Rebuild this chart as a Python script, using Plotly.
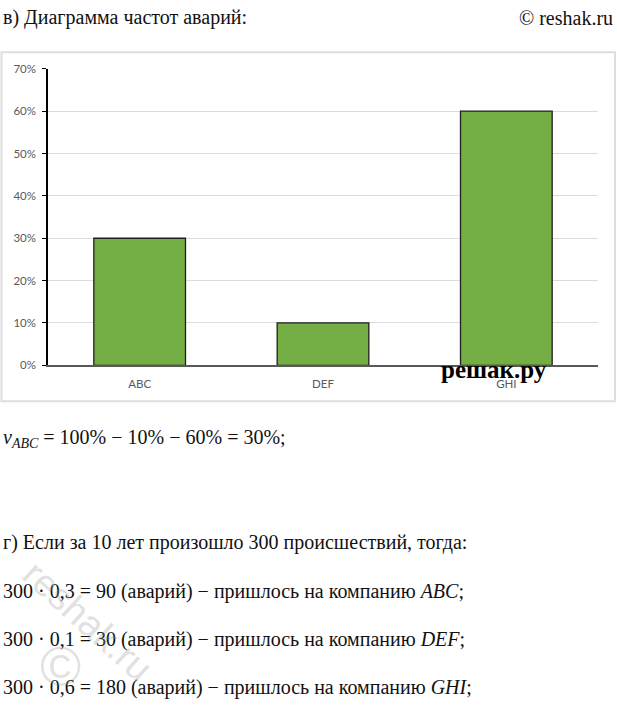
import plotly.graph_objects as go

W, H = 617, 708

categories = ["ABC", "DEF", "GHI"]
frequencies = [0.30, 0.10, 0.60]
y_ticks = [0, 0.1, 0.2, 0.3, 0.4, 0.5, 0.6, 0.7]
y_tick_labels = ["0%", "10%", "20%", "30%", "40%", "50%", "60%", "70%"]

header_left = "в) Диаграмма частот аварий:"
header_right = "© reshak.ru"
line_v = "<i>v</i><sub><i>ABC</i></sub> = 100% − 10% − 60% = 30%;"
line_g = "г) Если за 10 лет произошло 300 происшествий, тогда:"
calc_lines = [
    "300 · 0,3 = 90 (аварий) − пришлось на компанию <i>ABC</i>;",
    "300 · 0,1 = 30 (аварий) − пришлось на компанию <i>DEF</i>;",
    "300 · 0,6 = 180 (аварий) − пришлось на компанию <i>GHI</i>;",
]

def px(x):
    return x / W

def py(y):
    return 1 - y / H

fig = go.Figure()
fig.add_trace(go.Bar(
    x=categories, y=frequencies, width=0.5,
    marker=dict(color="#74ae44", line=dict(color="#1e1e1e", width=1.3)),
    showlegend=False, hoverinfo="skip",
))

serif = "Liberation Serif"
ann = []
def text(x, y, s, size=20, anchor="left", color="#111111", family=serif, **kw):
    ann.append(dict(x=px(x), y=py(y), xref="paper", yref="paper", text=s,
                    showarrow=False, xanchor=anchor, yanchor="middle",
                    font=dict(family=family, size=size, color=color), **kw))

text(1, 11, header_left, size=20)
text(615, 11, header_right, size=20, anchor="right")
text(1, 440, line_v, size=20)
text(1, 546, line_g, size=20)
for i, s in enumerate(calc_lines):
    text(1, 595 + 49 * i, s, size=20)

# watermarks
text(494, 369, "<b>решак.ру</b>", size=25, anchor="center", color="#000000")
text(88, 625, "reshak.ru", size=38, anchor="center", color="rgba(150,150,150,0.30)",
     family="Liberation Sans", textangle=42)
text(60, 672, "©", size=56, anchor="center", color="rgba(150,150,150,0.28)",
     family="Liberation Sans")

fig.update_layout(
    width=W, height=H, autosize=False,
    margin=dict(l=0, r=0, t=0, b=0),
    paper_bgcolor="white", plot_bgcolor="white",
    bargap=0.5,
    annotations=ann,
    shapes=[dict(type="rect", xref="paper", yref="paper",
                 x0=px(1.5), x1=px(615), y0=py(46), y1=py(401.5),
                 line=dict(color="#dedede", width=2), layer="below")],
    xaxis=dict(domain=[px(48), px(598)], showline=True, linecolor="#595959",
               linewidth=1.5, ticks="", showgrid=False,
               tickfont=dict(family="Lato", size=11.5, color="#595959"),
               ticklabelstandoff=7),
    yaxis=dict(domain=[py(365), py(63)], range=[0, 0.7], tickvals=y_ticks,
               ticktext=y_tick_labels, showline=True, linecolor="#000000",
               linewidth=1.5, ticks="outside", ticklen=4, tickcolor="#000000",
               gridcolor="#dcdcdc", gridwidth=1, zeroline=False,
               tickfont=dict(family="Lato", size=11.5, color="#595959"),
               ticklabelstandoff=4),
)

fig.write_html("out.html")
